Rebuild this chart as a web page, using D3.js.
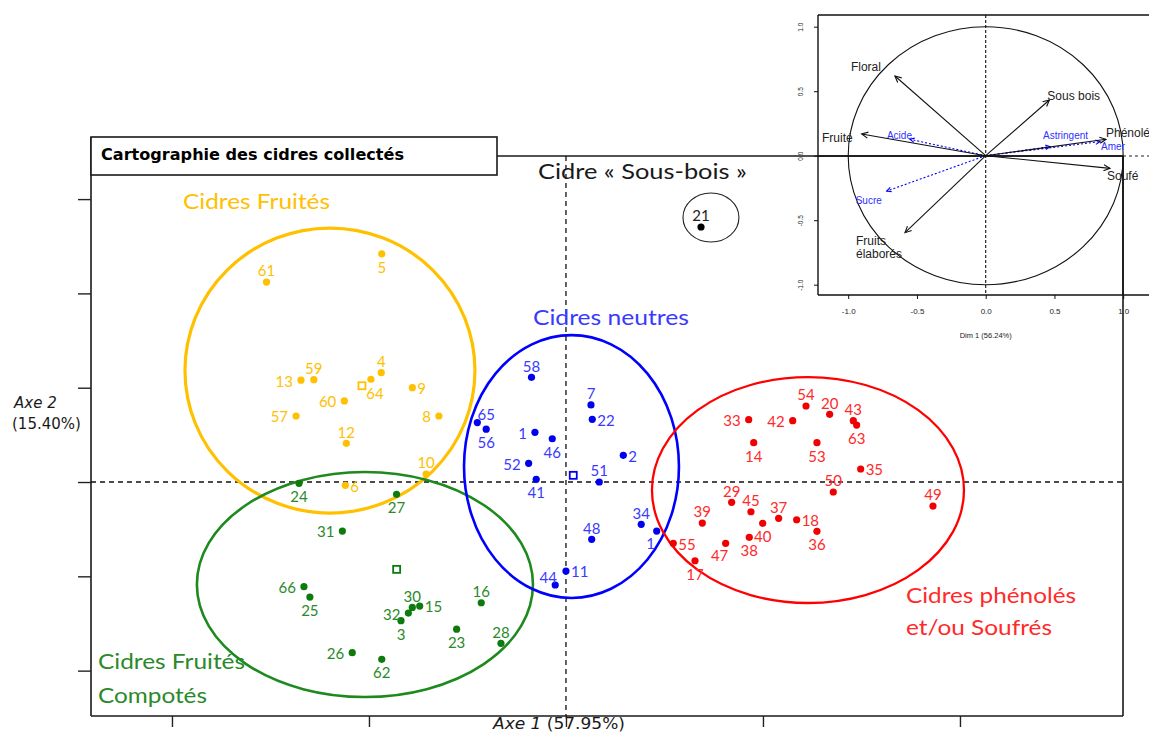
<!DOCTYPE html>
<html><head><meta charset="utf-8">
<script src="https://cdn.jsdelivr.net/npm/d3@7"></script>
<style>body{margin:0;background:#fff}svg{display:block}</style>
</head><body>
<svg id="c" width="1149" height="733"></svg>
<script>
// ---------- DATA (PCA coordinates, Axe 1 / Axe 2) ----------
const fruitesIds = ["61","5","4","64","59","13","9","60","57","8","12","10","6"];
const fruitesX   = [-3.04,-1.87,-1.875,-1.98,-2.56,-2.69,-1.56,-2.25,-2.74,-1.29,-2.23,-1.42,-2.24];
const fruitesY   = [2.12,2.42,1.16,1.09,1.085,1.08,1.0,0.86,0.70,0.70,0.41,0.085,-0.035];

const compotesIds = ["24","27","31","66","25","30","15","32","3","16","23","28","26","62"];
const compotesX   = [-2.71,-1.72,-2.27,-2.66,-2.60,-1.56,-1.485,-1.60,-1.675,-0.86,-1.11,-0.66,-2.17,-1.87];
const compotesY   = [-0.014,-0.13,-0.52,-1.11,-1.22,-1.33,-1.315,-1.39,-1.47,-1.28,-1.56,-1.71,-1.81,-1.88];

const neutresIds = ["58","7","22","65","56","1","46","2","52","51","41","34","1","48","11","44"];
const neutresX   = [-0.35,0.254,0.267,-0.90,-0.81,-0.315,-0.139,0.582,-0.379,0.338,-0.302,0.764,0.921,0.261,0.0,-0.109];
const neutresY   = [1.11,0.817,0.665,0.63,0.56,0.527,0.459,0.283,0.198,0.0,0.029,-0.449,-0.52,-0.608,-0.944,-1.092];

const phenolesIds = ["54","20","43","63","33","42","14","53","35","50","49","29","45","37","18","39","40","36","38","47","55","17"];
const phenolesX   = [2.437,2.677,2.917,2.951,1.855,2.302,1.906,2.548,2.992,2.714,3.726,1.682,1.878,2.159,2.342,1.384,1.997,2.548,1.861,1.621,1.089,1.31];
const phenolesY   = [0.806,0.718,0.65,0.604,0.661,0.65,0.417,0.417,0.138,-0.106,-0.255,-0.215,-0.315,-0.385,-0.40,-0.435,-0.438,-0.523,-0.586,-0.65,-0.65,-0.835];

const sousboisIds = ["21"];
const sousboisX   = [1.371];
const sousboisY   = [2.704];

// group centroids (open squares)
const centroidGroups = ["fruites","compotes","neutres"];
const centroidX = [-2.071,-1.719,0.074];
const centroidY = [1.021,-0.926,0.071];

// group ellipses (center, radii in axis units)
const ellipseGroups = ["fruites","compotes","neutres","phenoles","sousbois"];
const ellipseCX = [-2.396,-2.041,0.056,2.457,1.472];
const ellipseCY = [1.182,-1.087,0.164,-0.085,2.805];
const ellipseRX = [1.472,1.706,1.091,1.584,0.284];
const ellipseRY = [1.511,1.193,1.394,1.198,0.260];

// axis ticks
const xTicks = [-4,-2,0,2,4];
const yTicks = [-2,-1,0,1,2,3];

// correlation circle (inset)
const varNames = ["Floral","Sous bois","Fruité","Phénolé","Soufé","Fruits|élaborés"];
const varDim1  = [-0.660,0.463,-0.902,0.875,0.904,-0.587];
const varDim2  = [0.618,0.432,0.168,0.127,-0.098,-0.597];
const supNames = ["Acide","Sucre","Astringent","Amer"];
const supDim1  = [-0.551,-0.72,0.468,0.832];
const supDim2  = [0.127,-0.274,0.07,0.109];
const insetTicks = [-1,-0.5,0,0.5,1];

// ---------- LAYOUT / STYLE ----------
const labelPos = {
  fruites:  ["n","s","n","se","n","w","e","w","w","w","n","n","e"],
  compotes: ["s","s","w","w","s","n","e","w","s","n","s","n","w","s"],
  neutres:  ["n","n","e","ne","s","w","s","e","w","n","s","n","sw","n","e","nw"],
  phenoles: ["n","n","n","s","w","w","s","s","e","n","n","n","n","n","e","n","s","s","s","sw","e","s"],
  sousbois: ["n"]
};
const off = {n:[0,-11,"middle"], s:[0,13.5,"middle"], e:[5,1,"start"], w:[-8,1,"end"],
             ne:[9,-8,"middle"], nw:[-7,-7,"middle"], se:[4,14,"middle"], sw:[-6,12.5,"middle"]};
const ellColor = {fruites:"#FFC000", compotes:"#1E8A1E", neutres:"#0000FF", phenoles:"#FF0000", sousbois:"#222"};
const ellWidth = {fruites:3.2, compotes:2.6, neutres:2.6, phenoles:2.3, sousbois:1.1};
const dotColor = {fruites:"#FFC000", compotes:"#0C7A0C", neutres:"#0000EE", phenoles:"#F00000", sousbois:"#000"};
const txtColor = {fruites:"#FFC000", compotes:"#2A8A2A", neutres:"#3A3AFF", phenoles:"#FF2A2A", sousbois:"#222"};
const LBL = "Lato, 'Open Sans', sans-serif";

const svg = d3.select("#c");
const x = d3.scaleLinear().domain([-4.822,5.645]).range([91,1122]);
const y = d3.scaleLinear().domain([-2.481,3.457]).range([716,156]);

// frame
const frame = svg.append("g").attr("stroke","#1a1a1a").attr("stroke-width",1.6);
frame.append("line").attr("x1",91).attr("y1",137).attr("x2",91).attr("y2",716);
frame.append("line").attr("x1",91).attr("y1",716).attr("x2",1123).attr("y2",716);
frame.append("line").attr("x1",1123).attr("y1",156).attr("x2",1123).attr("y2",716);
frame.append("line").attr("x1",497).attr("y1",156).attr("x2",1123).attr("y2",156);
svg.append("line").attr("x1",1123).attr("y1",156).attr("x2",1149).attr("y2",156)
  .attr("stroke","#222").attr("stroke-width",1.2).attr("stroke-dasharray","3,3");

// axes (ticks only)
const ax = svg.append("g").attr("transform","translate(0,716)")
  .call(d3.axisBottom(x).tickValues(xTicks).tickSize(11).tickFormat(""));
const ay = svg.append("g").attr("transform","translate(91,0)")
  .call(d3.axisLeft(y).tickValues(yTicks).tickSize(13).tickFormat(""));
[ax,ay].forEach(a=>{a.select(".domain").remove(); a.selectAll("line").attr("stroke","#222").attr("stroke-width",1.4);});

// dashed origin lines
svg.append("line").attr("x1",91).attr("x2",1123).attr("y1",y(0)).attr("y2",y(0))
  .attr("stroke","#111").attr("stroke-width",1.3).attr("stroke-dasharray","5,4");
svg.append("line").attr("x1",x(0)).attr("x2",x(0)).attr("y1",156).attr("y2",716)
  .attr("stroke","#111").attr("stroke-width",1.3).attr("stroke-dasharray","5,4");

// title box
svg.append("rect").attr("x",91).attr("y",137).attr("width",406).attr("height",38)
  .attr("fill","#fff").attr("stroke","#1a1a1a").attr("stroke-width",1.6);
svg.append("text").attr("x",101).attr("y",160).attr("font-family","'DejaVu Sans', sans-serif")
  .attr("font-weight","bold").attr("font-size",15).attr("textLength",303).attr("lengthAdjust","spacingAndGlyphs")
  .text("Cartographie des cidres collectés");

// ellipses
ellipseGroups.forEach((g,i)=>{
  svg.append("ellipse").attr("cx",x(ellipseCX[i])).attr("cy",y(ellipseCY[i]))
    .attr("rx",x(ellipseRX[i])-x(0)).attr("ry",y(0)-y(ellipseRY[i]))
    .attr("fill","none").attr("stroke",ellColor[g]).attr("stroke-width",ellWidth[g]);
});

// points + labels
const groupsData = {
  fruites:[fruitesIds,fruitesX,fruitesY], compotes:[compotesIds,compotesX,compotesY],
  neutres:[neutresIds,neutresX,neutresY], phenoles:[phenolesIds,phenolesX,phenolesY],
  sousbois:[sousboisIds,sousboisX,sousboisY]
};
Object.keys(groupsData).forEach(g=>{
  const [ids,xs,ys] = groupsData[g];
  const pts = ids.map((id,i)=>({id, x:xs[i], y:ys[i], p:labelPos[g][i]}));
  const G = svg.append("g");
  G.selectAll("circle").data(pts).join("circle")
    .attr("cx",d=>x(d.x)).attr("cy",d=>y(d.y)).attr("r",3.6).attr("fill",dotColor[g]);
  G.selectAll("text").data(pts).join("text")
    .attr("x",d=>x(d.x)+off[d.p][0]).attr("y",d=>y(d.y)+off[d.p][1])
    .attr("dy","0.36em").attr("text-anchor",d=>off[d.p][2])
    .attr("font-family",LBL).attr("font-size",15).attr("fill",txtColor[g]).text(d=>d.id);
});
// centroids
centroidGroups.forEach((g,i)=>{
  svg.append("rect").attr("x",x(centroidX[i])-3.5).attr("y",y(centroidY[i])-3.5)
    .attr("width",7).attr("height",7).attr("fill","#fff").attr("stroke",dotColor[g]).attr("stroke-width",1.8);
});

// group annotations
const ann = [
  ["Cidres Fruités",183,209,147,"fruites"],
  ["Cidre « Sous-bois »",538,179,209,"sousbois"],
  ["Cidres neutres",533,325,156,"neutres"],
  ["Cidres phénolés",906,603,170,"phenoles"],
  ["et/ou Soufrés",906,635,146,"phenoles"],
  ["Cidres Fruités",98,669,147,"compotes"],
  ["Compotés",98,703,109,"compotes"]
];
ann.forEach(a=>{
  svg.append("text").attr("x",a[1]).attr("y",a[2]).attr("font-family",LBL).attr("font-size",21)
    .attr("textLength",a[3]).attr("lengthAdjust","spacingAndGlyphs")
    .attr("fill",a[4]==="sousbois"?"#1a1a1a":txtColor[a[4]]).text(a[0]);
});

// axis titles
const AF = "'DejaVu Sans', Verdana, sans-serif";
svg.append("text").attr("x",14).attr("y",408).attr("font-family",AF).attr("font-size",15)
  .attr("font-style","italic").attr("fill","#1a1a1a").text("Axe 2");
svg.append("text").attr("x",12).attr("y",429).attr("font-family",AF).attr("font-size",15)
  .attr("fill","#1a1a1a").text("(15.40%)");
const t1 = svg.append("text").attr("x",493).attr("y",729).attr("font-family",AF).attr("font-size",15)
  .attr("fill","#1a1a1a").attr("textLength",132).attr("lengthAdjust","spacingAndGlyphs");
t1.append("tspan").attr("font-style","italic").text("Axe 1");
t1.append("tspan").text(" (57.95%)");

// ---------- INSET: correlation circle ----------
const ix = d3.scaleLinear().domain([-1,1]).range([848.2,1123.2]);
const iy = d3.scaleLinear().domain([-1,1]).range([284.7,26.7]);
const I = svg.append("g");
// frame
I.append("line").attr("x1",818).attr("x2",1149).attr("y1",15).attr("y2",15).attr("stroke","#111").attr("stroke-width",1.4);
I.append("line").attr("x1",818).attr("x2",818).attr("y1",15).attr("y2",295).attr("stroke","#111").attr("stroke-width",1.4);
I.append("line").attr("x1",818).attr("x2",1149).attr("y1",295).attr("y2",295).attr("stroke","#111").attr("stroke-width",1.4);
I.append("line").attr("x1",1123).attr("x2",1123).attr("y1",156).attr("y2",295).attr("stroke","#111").attr("stroke-width",1.4);
// inset axes
const ibx = I.append("g").attr("transform","translate(0,295)")
  .call(d3.axisBottom(ix).tickValues(insetTicks).tickSize(4).tickPadding(9).tickFormat(d=>d.toFixed(1)));
const iby = I.append("g").attr("transform","translate(818,0)")
  .call(d3.axisLeft(iy).tickValues(insetTicks).tickSize(4).tickFormat(d=>d.toFixed(1)));
[ibx,iby].forEach(a=>{a.select(".domain").remove(); a.selectAll("line").attr("stroke","#111");
  a.selectAll("text").attr("font-family","'Liberation Sans', Arial, sans-serif").attr("font-size",8).attr("fill","#222");});
iby.selectAll(".tick text").attr("x",null).attr("dy",null).attr("text-anchor","middle")
  .attr("font-size",6.5).attr("transform","translate(-15,0) rotate(-90)");
I.append("text").attr("x",ix(0)).attr("y",338).attr("text-anchor","middle")
  .attr("font-family","'Liberation Sans', Arial, sans-serif").attr("font-size",7.5).attr("fill","#222")
  .text("Dim 1 (56.24%)");
// origin lines
I.append("line").attr("x1",ix(0)).attr("x2",ix(0)).attr("y1",15).attr("y2",295)
  .attr("stroke","#111").attr("stroke-width",1.1).attr("stroke-dasharray","3,2");
// circle
I.append("ellipse").attr("cx",ix(0)).attr("cy",iy(0)).attr("rx",ix(1)-ix(0)).attr("ry",iy(0)-iy(1))
  .attr("fill","none").attr("stroke","#111").attr("stroke-width",1.1);

function arrowHead(g,x0,y0,x1,y1,col,len){
  const a = Math.atan2(y1-y0,x1-x0), s=0.45;
  const p = [[x1-len*Math.cos(a-s), y1-len*Math.sin(a-s)],[x1,y1],[x1-len*Math.cos(a+s), y1-len*Math.sin(a+s)]];
  g.append("path").attr("d",d3.line()(p)).attr("fill","none").attr("stroke",col).attr("stroke-width",1.1);
}
const IF = "'Liberation Sans', Arial, sans-serif";
// supplementary (blue, dotted)
const supOff = [[-23,0],[-31,13],[-7,-7.4],[1,8.3]];
supNames.forEach((n,i)=>{
  const x1=ix(supDim1[i]), y1=iy(supDim2[i]);
  I.append("line").attr("x1",ix(0)).attr("y1",iy(0)).attr("x2",x1).attr("y2",y1)
    .attr("stroke","#0000FF").attr("stroke-width",1.1).attr("stroke-dasharray","2,2");
  arrowHead(I,ix(0),iy(0),x1,y1,"#0000FF",5);
  I.append("text").attr("x",x1+supOff[i][0]).attr("y",y1+supOff[i][1]).attr("font-family",IF)
    .attr("font-size",10).attr("fill","#3030FF").text(n);
});
// active variables (black arrows)
const varOff = [[-14,-5,"end"],[-2,0,"start"],[-9,7.7,"end"],[0,-2.6,"start"],[-3,11.7,"start"],[-49,12.3,"start"]];
varNames.forEach((n,i)=>{
  const x1=ix(varDim1[i]), y1=iy(varDim2[i]);
  I.append("line").attr("x1",ix(0)).attr("y1",iy(0)).attr("x2",x1).attr("y2",y1)
    .attr("stroke","#111").attr("stroke-width",1.1);
  arrowHead(I,ix(0),iy(0),x1,y1,"#111",7);
  const t = I.append("text").attr("x",x1+varOff[i][0]).attr("y",y1+varOff[i][1])
    .attr("text-anchor",varOff[i][2]).attr("font-family",IF).attr("font-size",12).attr("fill","#222");
  n.split("|").forEach((s,k)=>t.append("tspan").attr("x",x1+varOff[i][0]).attr("dy",k?13.3:0).text(s));
});
// horizontal axis of the inset (shared line)
I.append("line").attr("x1",818).attr("x2",1123).attr("y1",156).attr("y2",156).attr("stroke","#111").attr("stroke-width",1.4);
</script>
</body></html>
